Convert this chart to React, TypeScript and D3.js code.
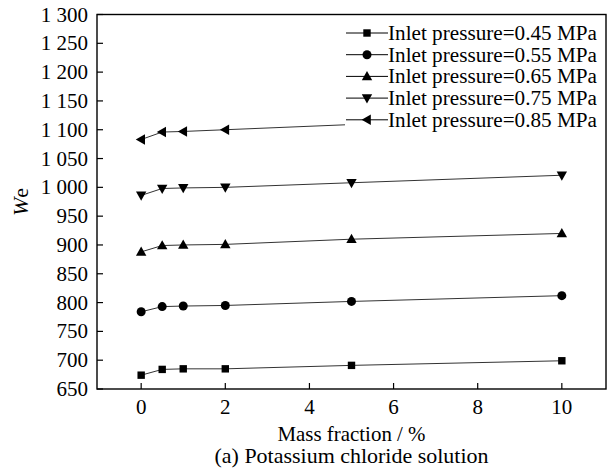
import React from "react";
import * as d3 from "d3";

const massFraction = [0, 0.5, 1, 2, 5, 10];
const p045 = [674, 684, 685, 685, 691, 699];
const p055 = [784, 793, 794, 795, 802, 812];
const p065 = [888, 899, 900, 901, 910, 920];
const p075 = [986, 998, 999, 1000, 1008, 1021];
const p085 = [1083, 1096, 1097, 1100, 1109, 1120];
const seriesLabels = [
  "Inlet pressure=0.45 MPa",
  "Inlet pressure=0.55 MPa",
  "Inlet pressure=0.65 MPa",
  "Inlet pressure=0.75 MPa",
  "Inlet pressure=0.85 MPa",
];
const markerTypes = ["square", "circle", "up", "down", "left"];
const yTicks = [650, 700, 750, 800, 850, 900, 950, 1000, 1050, 1100, 1150, 1200, 1250, 1300];
const xTicks = [0, 2, 4, 6, 8, 10];
const xTitle = "Mass fraction / %";
const caption = "(a) Potassium chloride solution";

const W = 612;
const H = 470;
const L = 97, R = 606, T = 14.5, B = 389;
const FONT = "Liberation Serif";

const locale = d3.formatLocale({ decimal: ".", thousands: " ", grouping: [3], currency: ["", ""] });
const fmt = locale.format(",");

function Marker({ type, x, y }: { type: string; x: number; y: number }) {
  if (type === "square") return <rect x={x - 3.7} y={y - 3.7} width={7.4} height={7.4} fill="#000" />;
  if (type === "circle") return <circle cx={x} cy={y} r={4.5} fill="#000" />;
  let pts: [number, number][] = [];
  if (type === "up") pts = [[x, y - 5.4], [x + 5.2, y + 3.8], [x - 5.2, y + 3.8]];
  if (type === "down") pts = [[x, y + 5.4], [x + 5.2, y - 3.8], [x - 5.2, y - 3.8]];
  if (type === "left") pts = [[x - 5.4, y], [x + 3.8, y - 5.2], [x + 3.8, y + 5.2]];
  return <polygon points={pts.map((p) => p.join(",")).join(" ")} fill="#000" />;
}

const ts = { fontFamily: FONT, fill: "#000" };

export default function App() {
  const x = d3.scaleLinear().domain([-1.05, 11.05]).range([L, R]);
  const y = d3.scaleLinear().domain([650, 1300]).range([B, T]);
  const series = [p045, p055, p065, p075, p085];
  const line = d3
    .line<number>()
    .x((_, i) => x(massFraction[i]))
    .y((d) => y(d));

  const legX = 346, legY0 = 33, legDy = 21.7;

  return (
    <svg width={W} height={H} style={{ position: "absolute", left: 0, top: 0, background: "#fff" }}>
      <rect x={0} y={0} width={W} height={H} fill="#fff" />
      {series.map((s, si) => (
        <g key={si}>
          <path d={line(s) || ""} fill="none" stroke="#333" strokeWidth={1} />
          {s.map((v, i) => (
            <Marker key={i} type={markerTypes[si]} x={x(massFraction[i])} y={y(v)} />
          ))}
        </g>
      ))}
      <rect x={345} y={T + 1} width={R - 345 - 1} height={124} fill="#fff" />
      {seriesLabels.map((lab, i) => {
        const yy = legY0 + i * legDy;
        return (
          <g key={i}>
            <line x1={legX} x2={legX + 42} y1={yy} y2={yy} stroke="#000" strokeWidth={1} />
            <Marker type={markerTypes[i]} x={legX + 21} y={yy} />
            <text x={388} y={yy + 6.8} style={{ ...ts, fontSize: 20 }} textLength={209} lengthAdjust="spacingAndGlyphs">
              {lab}
            </text>
          </g>
        );
      })}
      <rect x={L} y={T} width={R - L} height={B - T} fill="none" stroke="#000" strokeWidth={1.4} />
      {yTicks.map((t) => (
        <g key={t}>
          <line x1={L} x2={L + 6} y1={y(t)} y2={y(t)} stroke="#000" strokeWidth={1.2} />
          <text x={88} y={y(t) + 7} style={{ ...ts, fontSize: 21 }} textAnchor="end">
            {fmt(t)}
          </text>
        </g>
      ))}
      {xTicks.map((t) => (
        <g key={t}>
          <line x1={x(t)} x2={x(t)} y1={B} y2={B - 6} stroke="#000" strokeWidth={1.2} />
          <text x={x(t)} y={414} style={{ ...ts, fontSize: 21 }} textAnchor="middle">
            {t}
          </text>
        </g>
      ))}
      <text x={(L + R) / 2} y={441} style={{ ...ts, fontSize: 21 }} textAnchor="middle" textLength={148} lengthAdjust="spacingAndGlyphs">
        {xTitle}
      </text>
      <text x={(L + R) / 2} y={463} style={{ ...ts, fontSize: 21 }} textAnchor="middle" textLength={274} lengthAdjust="spacingAndGlyphs">
        {caption}
      </text>
      <text transform="translate(28,202) rotate(-90)" style={{ ...ts, fontSize: 22 }} textAnchor="middle">
        <tspan style={{ fontStyle: "italic" }}>W</tspan>
        <tspan style={{ fontStyle: "normal" }}>e</tspan>
      </text>
    </svg>
  );
}
